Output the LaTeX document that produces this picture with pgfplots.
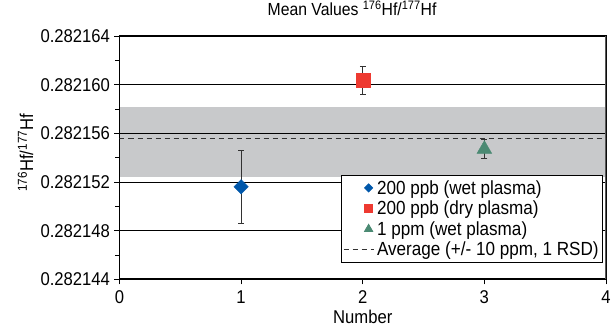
\documentclass[border=0pt]{standalone}
\usepackage{fontspec}
\setmainfont{Liberation Sans}[FakeStretch=0.9]
\usepackage{pgfplots}
\pgfplotsset{compat=1.18}
\definecolor{cblue}{RGB}{0,87,170}
\definecolor{cred}{RGB}{238,58,49}
\definecolor{cgreen}{RGB}{75,138,115}
\definecolor{cband}{RGB}{200,201,203}
\definecolor{cerr}{RGB}{50,50,50}
\begin{document}
\begin{tikzpicture}
% y values are given in units of 1e-6 above 0.282144 (ratio = 0.282144 + y*1e-6)
\begin{axis}[
  set layers,
  at={(0,0)}, anchor=south west,
  scale only axis,
  width=486.5pt, height=243.3pt,
  xmin=0, xmax=4, ymin=0, ymax=20,
  xtick={0,1,2,3,4}, xticklabels={0,1,2,3,4},
  ytick={0,4,8,12,16,20},
  yticklabels={0.282144,0.282148,0.282152,0.282156,0.282160,0.282164},
  minor ytick={2,6,10,14,18},
  ytick pos=left, xtick pos=bottom,
  ymajorgrids,
  major grid style={black, line width=0.8pt},
  tick align=outside,
  major tick length=5pt, minor tick length=4pt,
  x tick style={black, line width=0.8pt},
  y tick style={black, line width=0.8pt},
  minor y tick style={black, line width=0.8pt},
  axis line style={black, line width=1.3pt},
  tick label style={font=\fontsize{18.5}{20}\selectfont},
  yticklabel style={xshift=-1pt},
  xticklabel style={yshift=-2.5pt},
  title={Mean Values \textsuperscript{176}Hf/\textsuperscript{177}Hf},
  title style={font=\fontsize{17.5}{19}\selectfont, at={(axis description cs:0.478,1)}, anchor=base, yshift=14pt},
  xlabel={Number},
  xlabel style={font=\fontsize{18.5}{20}\selectfont, at={(axis description cs:0.5,0)}, anchor=center, yshift=-37.5pt},
  ylabel={\textsuperscript{176}Hf/\textsuperscript{177}Hf},
  ylabel style={font=\fontsize{18.5}{20}\selectfont, at={(axis description cs:-0.193,0.52)}, anchor=center},
  legend style={at={(rel axis cs:0.994,0.429)}, anchor=north east,
    font=\fontsize{19}{20}\selectfont, draw=black, line width=0.8pt,
    row sep=1.3pt, inner xsep=2pt, inner ysep=3pt, fill=white,
    /tikz/every odd column/.style={column sep=1pt}},
  legend cell align=left,
  legend image code/.code={\draw[mark repeat=2,mark phase=2] plot coordinates {(0pt,0pt) (25pt,0pt) (30pt,0pt)};},
  legend image post style={line width=0.9pt, every mark/.append style={scale=0.55}},
]
% +/- 10 ppm band
\addplot[on layer=axis background, fill=cband, draw=none, forget plot]
  coordinates {(0,8.4) (4,8.4) (4,14.15) (0,14.15)} -- cycle;

\addplot[only marks, mark=square*, mark size=5.1pt, mark options={rotate=45, fill=cblue, draw=cblue},
  error bars/.cd, y dir=both, y explicit,
  error bar style={cerr, line width=1.1pt},
  error mark options={rotate=90, mark size=3pt, cerr, line width=1.1pt}]
  coordinates {(1,7.6) +- (0,3.0)};
\addlegendentry{200 ppb (wet plasma)}

\addplot[only marks, mark=square*, mark size=7pt, mark options={fill=cred, draw=cred},
  error bars/.cd, y dir=both, y explicit,
  error bar style={cerr, line width=1.1pt},
  error mark options={rotate=90, mark size=3pt, cerr, line width=1.1pt}]
  coordinates {(2,16.35) +- (0,1.15)};
\addlegendentry{200 ppb (dry plasma)}

\addplot[only marks, mark=triangle*, mark size=8.5pt, mark options={fill=cgreen, draw=cgreen},
  error bars/.cd, y dir=both, y explicit,
  error bar style={cerr, line width=1.1pt},
  error mark options={rotate=90, mark size=3pt, cerr, line width=1.1pt}]
  coordinates {(3,10.7) +- (0,0.8)};
\addlegendentry{1 ppm (wet plasma)}

\addplot[dashed, cerr, line width=1pt, dash pattern=on 5pt off 4pt, mark=none]
  coordinates {(0,11.55) (4,11.55)};
\addlegendentry{Average (+/- 10 ppm, 1 RSD)}

\draw[black, line width=2.2pt] (rel axis cs:0,1) -- (rel axis cs:1,1);
\draw[black, line width=2.2pt] (rel axis cs:0,0) -- (rel axis cs:1,0);
\draw[black!65, line width=1.6pt] (rel axis cs:1,0) -- (rel axis cs:1,1);
\end{axis}
\pgfresetboundingbox
\path (-119.5pt,-49.7pt) rectangle (491.5pt,279.3pt);
\end{tikzpicture}
\end{document}
